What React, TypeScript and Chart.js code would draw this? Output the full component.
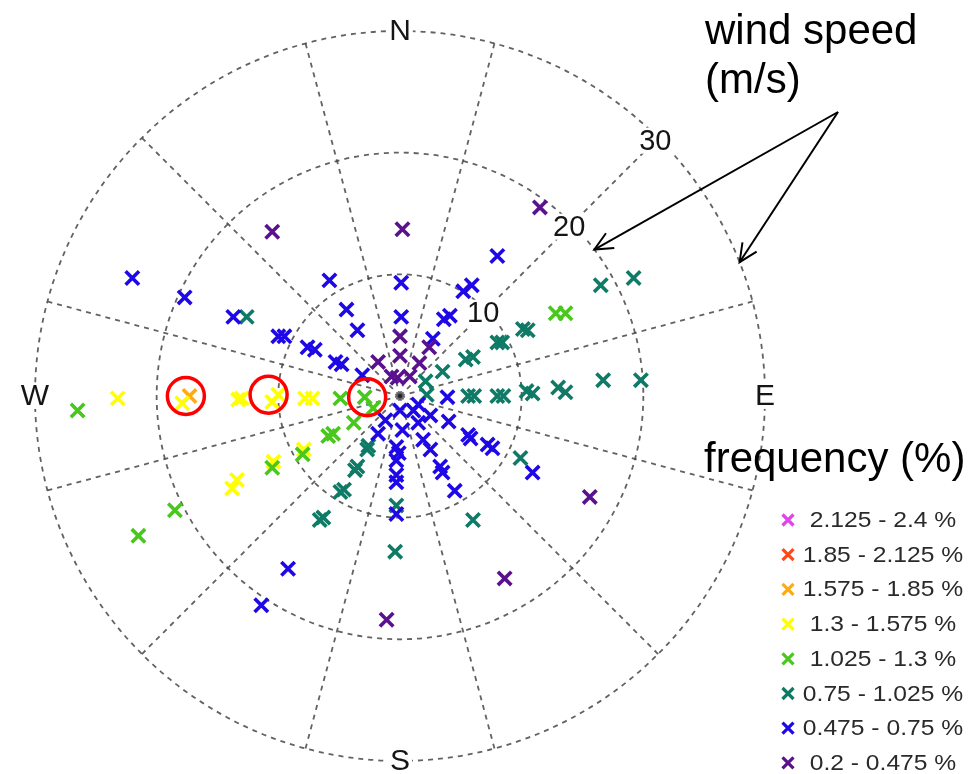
import React, { useEffect, useRef } from 'react';
import { Chart, registerables } from 'chart.js';

Chart.register(...registerables);

// ---- frequency bins (legend) ----
const binLabels = [
  '0.2 - 0.475 %',
  '0.475 - 0.75 %',
  '0.75 - 1.025 %',
  '1.025 - 1.3 %',
  '1.3 - 1.575 %',
  '1.575 - 1.85 %',
  '1.85 - 2.125 %',
  '2.125 - 2.4 %',
];
const binColors = ['#5a118e', '#1e08e6', '#0f7a66', '#48c81c', '#ffff00', '#ffaa10', '#ff4a18', '#e045ea'];

// ---- wind vectors: east / north components (m/s) ----
const purpleEast = [-10.5, 0.2, 11.5, 0.0, 0.0, 2.4, -1.8, 1.6, -0.7, -0.2, 0.8, 15.6, 8.6, -1.1];
const purpleNorth = [13.5, 13.7, 15.5, 4.9, 3.3, 4.0, 2.8, 2.7, 1.6, 1.5, 1.6, -8.3, -15.0, -18.4];

const blueEast = [
  -22.0, -17.7, -13.7, -10.0, -9.5, -5.8, -4.4, -3.5, -7.6, -7.0, -5.3, -4.8, -3.1, 0.1, 0.1, 8.0, 5.2,
  5.9, 3.6, 4.1, 2.7, 3.9, 0.0, 1.1, 2.5, -1.2, 0.2, 1.5, 4.0, -1.8, -0.3, -0.1, -0.3, -0.3, -0.3, 1.9,
  2.5, 3.3, 3.5, 4.5, 5.6, 5.8, 7.2, 7.6, 10.9, -0.3, -9.2, -11.4, 1.5,
];
const blueNorth = [
  9.7, 8.1, 6.5, 4.9, 4.9, 9.5, 7.1, 5.4, 4.0, 3.8, 2.8, 2.6, 1.7, 9.3, 6.5, 11.5, 8.6, 9.1, 6.3, 6.6,
  4.7, -0.1, -1.2, -1.2, -1.6, -2.0, -2.8, -2.2, -2.1, -3.1, -4.2, -4.7, -5.3, -6.5, -7.1, -3.6, -4.4,
  -5.8, -6.3, -7.8, -3.2, -3.5, -4.0, -4.3, -6.3, -9.7, -14.2, -17.2, -0.7,
];

const tealEast = [
  -12.6, 3.5, 5.4, 6.0, 8.0, 8.4, 10.1, 10.5, 16.5, 19.2, 2.1, 2.2, 5.6, 6.1, 8.0, 8.5, 10.4, 10.9, 13.0,
  13.6, 16.7, 19.8, 9.9, 6.0, -0.3, -0.4, -2.7, -2.6, -3.7, -3.5, -4.9, -4.6, -6.6, -6.3,
];
const tealNorth = [
  6.5, 2.0, 3.0, 3.2, 4.4, 4.4, 5.5, 5.4, 9.1, 9.7, 1.2, 0.1, 0.0, 0.0, 0.0, 0.0, 0.4, 0.2, 0.7, 0.3,
  1.3, 1.3, -5.1, -10.2, -9.0, -12.8, -4.4, -4.1, -6.1, -5.8, -7.9, -7.7, -10.2, -10.0,
];

const greenEast = [-26.5, -4.9, -2.9, -2.2, -3.8, -5.9, -5.5, -8.0, -10.5, -18.5, -21.5, 12.8, 13.6];
const greenNorth = [-1.2, -0.2, -0.1, -1.0, -2.2, -3.3, -3.1, -4.8, -5.9, -9.4, -11.5, 6.8, 6.8];

const yellowEast = [-23.2, -17.9, -13.3, -13.0, -10.5, -10.0, -7.8, -7.2, -7.9, -10.4, -13.8, -13.4];
const yellowNorth = [-0.2, -0.6, -0.3, -0.2, -0.5, 0.1, -0.2, -0.2, -4.4, -5.4, -7.6, -6.9];

const orangeEast = [-17.3];
const orangeNorth = [0.0];

const redEast: number[] = [];
const redNorth: number[] = [];
const magentaEast: number[] = [];
const magentaNorth: number[] = [];

const binEast = [purpleEast, blueEast, tealEast, greenEast, yellowEast, orangeEast, redEast, magentaEast];
const binNorth = [purpleNorth, blueNorth, tealNorth, greenNorth, yellowNorth, orangeNorth, redNorth, magentaNorth];

// ---- polar grid ----
const ringSpeeds = [10, 20, 30];
const ringLabels = ['10', '20', '30'];
const ringLabelDirection = 45;
const spokeDirections = [15, 45, 75, 105, 135, 165, 195, 225, 255, 285, 315, 345];
const compassLabels = ['N', 'E', 'S', 'W'];
const compassDirections = [0, 90, 180, 270];

// ---- highlighted points (red circles) ----
const highlightEast = [-17.6, -10.8, -2.7];
const highlightNorth = [0.0, 0.1, -0.1];

// ---- annotation arrows point to ring (speed, direction) ----
const arrowSpeeds = [20, 30];
const arrowDirections = [53, 68.5];

const FONT = '"Liberation Sans", Arial, Helvetica, sans-serif';

function drawCross(ctx: CanvasRenderingContext2D, x: number, y: number, h: number, color: string, lw: number) {
  ctx.save();
  ctx.strokeStyle = color;
  ctx.lineWidth = lw;
  ctx.lineCap = 'butt';
  ctx.setLineDash([]);
  ctx.beginPath();
  ctx.moveTo(x - h, y - h);
  ctx.lineTo(x + h, y + h);
  ctx.moveTo(x + h, y - h);
  ctx.lineTo(x - h, y + h);
  ctx.stroke();
  ctx.restore();
}

function labelBox(ctx: CanvasRenderingContext2D, text: string, x: number, y: number, font: string) {
  ctx.save();
  ctx.font = font;
  ctx.textAlign = 'center';
  ctx.textBaseline = 'middle';
  const w = ctx.measureText(text).width;
  ctx.fillStyle = '#ffffff';
  ctx.fillRect(x - w / 2 - 2, y - 13, w + 4, 26);
  ctx.fillStyle = '#151515';
  ctx.fillText(text, x, y + 1);
  ctx.restore();
}

const polarPlugin = {
  id: 'polarPlugin',
  beforeDatasetsDraw(chart: any) {
    const { ctx, scales } = chart;
    const xs = scales.x;
    const ys = scales.y;
    const cx = xs.getPixelForValue(0);
    const cy = ys.getPixelForValue(0);
    const ppu = xs.getPixelForValue(1) - cx;
    const maxR = ringSpeeds[ringSpeeds.length - 1];
    ctx.save();
    ctx.strokeStyle = 'rgba(70,70,70,0.85)';
    ctx.lineWidth = 1.8;
    ctx.setLineDash([5, 5]);
    for (const r of ringSpeeds) {
      ctx.beginPath();
      ctx.arc(cx, cy, r * ppu, 0, Math.PI * 2);
      ctx.stroke();
    }
    for (const a of spokeDirections) {
      const t = (a * Math.PI) / 180;
      ctx.beginPath();
      ctx.moveTo(cx, cy);
      ctx.lineTo(cx + Math.sin(t) * maxR * ppu, cy - Math.cos(t) * maxR * ppu);
      ctx.stroke();
    }
    ctx.setLineDash([]);
    ctx.fillStyle = '#222';
    ctx.beginPath();
    ctx.arc(cx, cy, 2, 0, Math.PI * 2);
    ctx.fill();
    ctx.restore();
  },
  afterDatasetsDraw(chart: any) {
    const { ctx, scales } = chart;
    const xs = scales.x;
    const ys = scales.y;
    const cx = xs.getPixelForValue(0);
    const cy = ys.getPixelForValue(0);
    const ppu = xs.getPixelForValue(1) - cx;
    const maxR = ringSpeeds[ringSpeeds.length - 1];

    // red highlight circles
    ctx.save();
    ctx.strokeStyle = '#ff0000';
    ctx.lineWidth = 3.5;
    highlightEast.forEach((e, i) => {
      ctx.beginPath();
      ctx.arc(xs.getPixelForValue(e), ys.getPixelForValue(highlightNorth[i]), 18.5, 0, Math.PI * 2);
      ctx.stroke();
    });
    ctx.restore();

    // ring labels
    const tr = (ringLabelDirection * Math.PI) / 180;
    ringSpeeds.forEach((r, i) => {
      const rr = r * ppu - 4;
      labelBox(ctx, ringLabels[i], cx + Math.sin(tr) * rr, cy - Math.cos(tr) * rr, `29px ${FONT}`);
    });

    // compass labels
    compassLabels.forEach((l, i) => {
      const t = (compassDirections[i] * Math.PI) / 180;
      const rr = maxR * ppu;
      labelBox(ctx, l, cx + Math.sin(t) * rr, cy - Math.cos(t) * rr, `30px ${FONT}`);
    });

    // annotation texts
    ctx.save();
    ctx.fillStyle = '#000';
    ctx.font = `42px ${FONT}`;
    ctx.textAlign = 'left';
    ctx.textBaseline = 'alphabetic';
    ctx.fillText('wind speed', 705, 44);
    ctx.fillText('(m/s)', 705, 93);
    ctx.fillText('frequency (%)', 704, 472);
    ctx.restore();

    // arrows
    const tailX = 838;
    const tailY = 112;
    ctx.save();
    ctx.strokeStyle = '#000';
    ctx.lineWidth = 2;
    arrowSpeeds.forEach((s, i) => {
      const t = (arrowDirections[i] * Math.PI) / 180;
      const hx = cx + Math.sin(t) * s * ppu;
      const hy = cy - Math.cos(t) * s * ppu;
      ctx.beginPath();
      ctx.moveTo(tailX, tailY);
      ctx.lineTo(hx, hy);
      ctx.stroke();
      const ang = Math.atan2(tailY - hy, tailX - hx);
      const L = 20;
      const spread = (25 * Math.PI) / 180;
      ctx.beginPath();
      ctx.moveTo(hx + Math.cos(ang + spread) * L, hy + Math.sin(ang + spread) * L);
      ctx.lineTo(hx, hy);
      ctx.lineTo(hx + Math.cos(ang - spread) * L, hy + Math.sin(ang - spread) * L);
      ctx.stroke();
    });
    ctx.restore();

    // legend (highest bin first)
    const n = binLabels.length;
    const legendMarkX = 788;
    const legendTextX = 883;
    const legendTop = 520;
    const legendStep = 34.7;
    for (let k = 0; k < n; k++) {
      const i = n - 1 - k;
      const yy = legendTop + k * legendStep;
      drawCross(ctx, legendMarkX, yy, 5.5, binColors[i], 3.2);
      ctx.save();
      ctx.translate(legendTextX, yy + 1);
      ctx.scale(1.12, 1);
      ctx.font = `22px ${FONT}`;
      ctx.fillStyle = '#2a2a2a';
      ctx.textAlign = 'center';
      ctx.textBaseline = 'middle';
      ctx.fillText(binLabels[i], 0, 0);
      ctx.restore();
    }
  },
};

export default function App() {
  const canvasRef = useRef<HTMLCanvasElement | null>(null);

  useEffect(() => {
    if (!canvasRef.current) return;
    const datasets = binLabels.map((label, i) => ({
      label,
      data: binEast[i].map((e, j) => ({ x: e, y: binNorth[i][j] })),
      pointStyle: 'crossRot',
      pointRadius: 9.5,
      pointHoverRadius: 9.5,
      pointBorderWidth: 3.6,
      borderWidth: 3.6,
      borderColor: binColors[i],
      backgroundColor: binColors[i],
      showLine: false,
    }));
    const chart = new Chart(canvasRef.current, {
      type: 'scatter',
      data: { datasets } as any,
      options: {
        responsive: false,
        animation: false,
        events: [],
        layout: { padding: { left: 35, right: 209, top: 31, bottom: 13 } },
        scales: {
          x: { type: 'linear', min: -30, max: 30, display: false },
          y: { type: 'linear', min: -30, max: 30, display: false },
        },
        plugins: {
          legend: { display: false },
          tooltip: { enabled: false },
        },
      } as any,
      plugins: [polarPlugin],
    });
    return () => chart.destroy();
  }, []);

  return (
    <div style={{ position: 'fixed', left: 0, top: 0, width: 974, height: 774, background: '#fff' }}>
      <canvas ref={canvasRef} width={974} height={774} style={{ display: 'block' }} />
    </div>
  );
}
